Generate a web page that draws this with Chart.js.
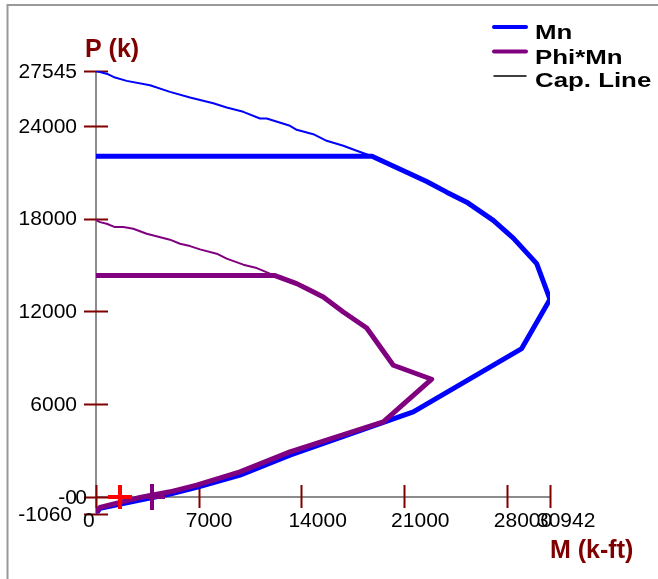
<!DOCTYPE html>
<html>
<head>
<meta charset="utf-8">
<title>Interaction diagram</title>
<script src="https://cdn.jsdelivr.net/npm/chart.js@4"></script>
<style>
  html, body { margin: 0; padding: 0; background: #fff; }
  canvas { display: block; }
</style>
</head>
<body>
<canvas id="chart" width="658" height="579"></canvas>
<script>
// -------------------- DATA --------------------
// Mn curve, capped part (thick) and uncapped top (thin)
const mnM = [0, 18810, 21175, 22538, 23901, 25264, 27077, 28440, 30035, 30942, 29012, 21625, 13221, 9814, 6863, 5043, 3000, 273, 0];
const mnP = [22036, 22036, 21005, 20404, 19713, 19067, 17886, 16743, 15090, 12785, 9602, 5508, 2712, 1420, 626, 194, -194, -730, -1060];
const mnTopM = [0, 838, 1295, 2092, 3680, 5043, 6406, 7994, 8907, 10039, 11177, 11634, 13222, 13679, 14810, 15723, 16854, 17767, 18810];
const mnTopP = [27545, 27333, 27120, 26907, 26622, 26196, 25828, 25460, 25182, 24905, 24472, 24472, 24001, 23742, 23458, 23032, 22709, 22386, 22036];

// Phi*Mn curve
const phiM = [0, 12199, 13679, 14584, 15491, 16854, 18449, 20262, 22879, 19580, 13221, 9814, 6863, 5043, 3000, 273, 0];
const phiP = [14323, 14323, 13799, 13366, 12933, 11965, 10932, 8523, 7619, 4862, 2925, 1634, 775, 342, -19, -665, -954];
const phiTopM = [0, 273, 729, 1295, 1861, 2542, 3455, 5043, 5725, 6406, 7088, 8226, 8907, 10039, 10952, 11858, 12199];
const phiTopP = [17904, 17776, 17673, 17454, 17454, 17350, 17027, 16640, 16381, 16227, 16013, 15736, 15413, 15025, 14806, 14444, 14323];

// load points
const loadM = [1636, 3817];
const loadP = [0, 0];

// axes
const xTicks = [0, 7000, 14000, 21000, 28000, 30942];
const xTickLabels = ['0', '7000', '14000', '21000', '28000', '30942'];
const yTicks = [27545, 24000, 18000, 12000, 6000, 0, 0, -1060];
const yTickLabels = ['27545', '24000', '18000', '12000', '6000', '-0', '0', '-1060'];

// legend, top to bottom
const legendOrder = ['Mn', 'Phi*Mn', 'Cap. Line'];

const BLUE = '#0000ff';
const PURPLE = '#800080';
const DARKRED = '#800000';
const AXIS_GRAY = '#8c8c8c';
const FONT = "'Liberation Sans', Arial, Helvetica, sans-serif";

function pts(xs, ys) {
    return xs.map((x, i) => ({ x: x, y: ys[i] }));
}

// -------------------- AXES / LEGEND PLUGIN --------------------
const axesPlugin = {
    id: 'axesPlugin',
    beforeDatasetsDraw(chart) {
        const ctx = chart.ctx;
        const xs = chart.scales.x, ys = chart.scales.y;
        const x0 = xs.getPixelForValue(0), y0 = ys.getPixelForValue(0);
        ctx.save();

        // frame (top + left)
        ctx.strokeStyle = '#999';
        ctx.lineWidth = 2;
        ctx.beginPath();
        ctx.moveTo(7.5, 580);
        ctx.lineTo(7.5, 5);
        ctx.lineTo(660, 5);
        ctx.stroke();

        // axis lines
        ctx.strokeStyle = AXIS_GRAY;
        ctx.lineWidth = 2;
        ctx.beginPath();
        ctx.moveTo(x0, ys.getPixelForValue(ys.max));
        ctx.lineTo(x0, ys.getPixelForValue(ys.min));
        ctx.moveTo(xs.getPixelForValue(xs.min), y0);
        ctx.lineTo(xs.getPixelForValue(xs.max), y0);
        ctx.stroke();

        // tick marks crossing the axes
        ctx.strokeStyle = DARKRED;
        ctx.lineWidth = 2;
        ctx.beginPath();
        yTicks.forEach(v => {
            const py = Math.round(ys.getPixelForValue(v)) + 0.5;
            ctx.moveTo(x0 - 12, py);
            ctx.lineTo(x0 + 12, py);
        });
        xTicks.forEach(v => {
            const px = Math.round(xs.getPixelForValue(v)) + 0.5;
            ctx.moveTo(px, y0 - 12);
            ctx.lineTo(px, y0 + 11);
        });
        ctx.stroke();
        ctx.restore();
    },
    afterDatasetsDraw(chart) {
        const ctx = chart.ctx;
        const xs = chart.scales.x, ys = chart.scales.y;
        const x0 = xs.getPixelForValue(0), y0 = ys.getPixelForValue(0);
        ctx.save();

        // tick labels
        ctx.fillStyle = '#000';
        ctx.font = '21px ' + FONT;
        ctx.textBaseline = 'middle';
        ctx.textAlign = 'right';
        const nudge = { '0': 10, '-1060': -5 };
        yTicks.forEach((v, i) => {
            const lab = yTickLabels[i];
            const dx = nudge[lab] || 0;
            let py = ys.getPixelForValue(v);
            if (lab === '-1060') py += 1;
            ctx.fillText(lab, x0 - 19 + dx, py + 1);
        });
        ctx.textAlign = 'left';
        xTicks.forEach((v, i) => {
            ctx.fillText(xTickLabels[i], xs.getPixelForValue(v) - 13, y0 + 24);
        });

        // axis titles
        ctx.fillStyle = DARKRED;
        ctx.font = 'bold 25px ' + FONT;
        ctx.textBaseline = 'alphabetic';
        ctx.fillText('P (k)', 85, 57);
        ctx.fillText('M (k-ft)', 550, 558);

        // legend
        const items = legendOrder.map(l => chart.data.datasets.find(d => d.label === l));
        items.forEach((d, i) => {
            const ly = [27, 51.5, 76][i];
            const by = [39, 64, 87][i];
            ctx.strokeStyle = d.borderColor;
            ctx.lineWidth = d.legendWidth;
            ctx.lineCap = 'round';
            ctx.beginPath();
            ctx.moveTo(494, ly);
            ctx.lineTo(526, ly);
            ctx.stroke();
            ctx.save();
            ctx.fillStyle = '#000';
            ctx.font = 'bold 21px ' + FONT;
            ctx.translate(535, by);
            ctx.scale(1.23, 1);
            ctx.fillText(d.label, 0, 0);
            ctx.restore();
        });
        ctx.restore();
    }
};

// -------------------- CHART --------------------
const lineBase = { showLine: true, pointRadius: 0, tension: 0, borderJoinStyle: 'round', borderCapStyle: 'round', fill: false };

new Chart(document.getElementById('chart'), {
    type: 'scatter',
    data: {
        datasets: [
            {
                label: 'Load',
                data: pts(loadM, loadP),
                pointStyle: 'cross',
                pointRadius: [12, 13],
                pointBorderWidth: [4, 4],
                borderColor: ['#ff0000', PURPLE],
                backgroundColor: ['#ff0000', PURPLE],
                showLine: false
            },
            Object.assign({ label: 'Phi*Mn', data: pts(phiM, phiP), borderColor: PURPLE, borderWidth: 5, legendWidth: 4 }, lineBase),
            Object.assign({ label: 'Mn', data: pts(mnM, mnP), borderColor: BLUE, borderWidth: 5, legendWidth: 4 }, lineBase),
            Object.assign({ label: 'Phi*Mn top', data: pts(phiTopM, phiTopP), borderColor: PURPLE, borderWidth: 2 }, lineBase),
            Object.assign({ label: 'Mn top', data: pts(mnTopM, mnTopP), borderColor: BLUE, borderWidth: 2 }, lineBase),
            Object.assign({ label: 'Cap. Line', data: [], borderColor: '#000', borderWidth: 1.5, legendWidth: 1.5 }, lineBase)
        ]
    },
    options: {
        responsive: false,
        animation: false,
        devicePixelRatio: 1,
        layout: { padding: { left: 96, right: 108, top: 71, bottom: 65.5 } },
        plugins: {
            legend: { display: false },
            tooltip: { enabled: false }
        },
        scales: {
            x: { type: 'linear', min: 0, max: 30942, display: false },
            y: { type: 'linear', min: -1060, max: 27545, display: false }
        }
    },
    plugins: [axesPlugin]
});
</script>
</body>
</html>
